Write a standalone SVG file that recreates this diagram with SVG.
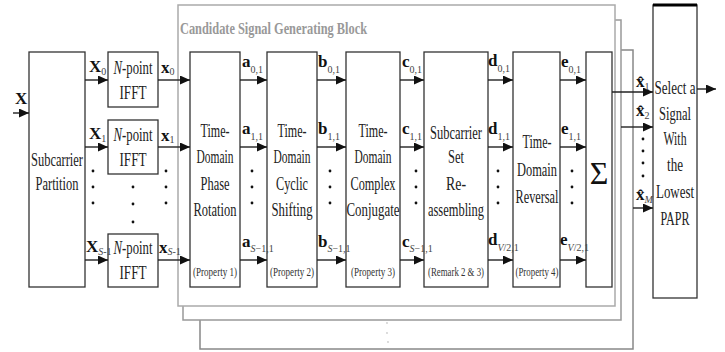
<svg xmlns="http://www.w3.org/2000/svg" width="725" height="352" viewBox="0 0 725 352">
<style>
.bx{fill:#fff;stroke:#333;stroke-width:1.3}
.fr{fill:#fff;stroke-width:1.5}
.ln{stroke:#222;stroke-width:1.4;fill:none}
.t{font-family:"Liberation Serif",serif;font-size:18px;fill:#222;text-anchor:middle}
.p{font-family:"Liberation Serif",serif;font-size:13px;fill:#333;text-anchor:middle}
.lb{font-family:"Liberation Serif",serif;font-size:17px;font-weight:bold;fill:#111}
.sb{font-size:10px;font-weight:normal;fill:#444}
.it{font-style:italic}
.dot{fill:#111}
</style>
<defs>
<marker id="ah" markerUnits="userSpaceOnUse" markerWidth="10" markerHeight="9" refX="10" refY="4.5" orient="auto">
<path d="M0,0 L10,4.5 L0,9 Z" fill="#111"/>
</marker>
</defs>

<g id="frames">
<rect class="fr" x="200" y="50" width="433" height="299" stroke="#888"/>
<rect class="fr" x="183" y="20" width="438" height="300" stroke="#999"/>
<rect class="fr" x="178" y="5" width="437" height="301" stroke="#aaa"/>
<text x="180" y="34" font-family="Liberation Serif,serif" font-size="17" font-weight="bold" fill="#999" textLength="187" lengthAdjust="spacingAndGlyphs">Candidate Signal Generating Block</text>
<g fill="#ccc"><circle cx="387" cy="323" r="0.9"/><circle cx="387" cy="333" r="0.9"/><circle cx="388" cy="342" r="0.9"/></g>
</g>

<g id="partition">
<rect class="bx" x="29" y="52" width="56" height="235"/>
<text class="t" x="57" y="166" textLength="52" lengthAdjust="spacingAndGlyphs">Subcarrier</text>
<text class="t" x="57" y="190" textLength="43" lengthAdjust="spacingAndGlyphs">Partition</text>
</g>

<g id="ifft0">
<rect class="bx" x="108" y="52" width="50" height="55"/>
<text class="t" x="133" y="74" textLength="39" lengthAdjust="spacingAndGlyphs"><tspan class="it">N</tspan>-point</text>
<text class="t" x="133" y="99" textLength="27" lengthAdjust="spacingAndGlyphs">IFFT</text>
</g>
<g id="ifft1">
<rect class="bx" x="108" y="120" width="50" height="54"/>
<text class="t" x="133" y="141" textLength="39" lengthAdjust="spacingAndGlyphs"><tspan class="it">N</tspan>-point</text>
<text class="t" x="133" y="166" textLength="27" lengthAdjust="spacingAndGlyphs">IFFT</text>
</g>
<g id="ifftS">
<rect class="bx" x="108" y="234" width="50" height="53"/>
<text class="t" x="133" y="254" textLength="39" lengthAdjust="spacingAndGlyphs"><tspan class="it">N</tspan>-point</text>
<text class="t" x="133" y="279" textLength="27" lengthAdjust="spacingAndGlyphs">IFFT</text>
</g>

<g id="phase">
<rect class="bx" x="190" y="52" width="50" height="235"/>
<text class="t" x="215" y="137" textLength="29" lengthAdjust="spacingAndGlyphs">Time-</text>
<text class="t" x="215" y="163" textLength="37" lengthAdjust="spacingAndGlyphs">Domain</text>
<text class="t" x="215" y="190" textLength="29" lengthAdjust="spacingAndGlyphs">Phase</text>
<text class="t" x="215" y="216" textLength="43" lengthAdjust="spacingAndGlyphs">Rotation</text>
<text class="p" x="215" y="276" textLength="44" lengthAdjust="spacingAndGlyphs">(Property 1)</text>
</g>
<g id="cyclic">
<rect class="bx" x="267" y="52" width="50" height="235"/>
<text class="t" x="292" y="137" textLength="29" lengthAdjust="spacingAndGlyphs">Time-</text>
<text class="t" x="292" y="163" textLength="37" lengthAdjust="spacingAndGlyphs">Domain</text>
<text class="t" x="292" y="190" textLength="32" lengthAdjust="spacingAndGlyphs">Cyclic</text>
<text class="t" x="292" y="216" textLength="41" lengthAdjust="spacingAndGlyphs">Shifting</text>
<text class="p" x="292" y="276" textLength="44" lengthAdjust="spacingAndGlyphs">(Property 2)</text>
</g>
<g id="conjugate">
<rect class="bx" x="346" y="52" width="54" height="235"/>
<text class="t" x="373" y="137" textLength="29" lengthAdjust="spacingAndGlyphs">Time-</text>
<text class="t" x="373" y="163" textLength="37" lengthAdjust="spacingAndGlyphs">Domain</text>
<text class="t" x="373" y="190" textLength="45" lengthAdjust="spacingAndGlyphs">Complex</text>
<text class="t" x="373" y="216" textLength="53" lengthAdjust="spacingAndGlyphs">Conjugate</text>
<text class="p" x="373" y="276" textLength="44" lengthAdjust="spacingAndGlyphs">(Property 3)</text>
</g>
<g id="reassembling">
<rect class="bx" x="424" y="52" width="64" height="235"/>
<text class="t" x="456" y="139" textLength="52" lengthAdjust="spacingAndGlyphs">Subcarrier</text>
<text class="t" x="456" y="163" textLength="16" lengthAdjust="spacingAndGlyphs">Set</text>
<text class="t" x="456" y="190" textLength="20" lengthAdjust="spacingAndGlyphs">Re-</text>
<text class="t" x="456" y="216" textLength="56" lengthAdjust="spacingAndGlyphs">assembling</text>
<text class="p" x="456" y="276" textLength="56" lengthAdjust="spacingAndGlyphs">(Remark 2 &amp; 3)</text>
</g>
<g id="reversal">
<rect class="bx" x="513" y="52" width="47" height="235"/>
<text class="t" x="537" y="148" textLength="29" lengthAdjust="spacingAndGlyphs">Time-</text>
<text class="t" x="537" y="176" textLength="40" lengthAdjust="spacingAndGlyphs">Domain</text>
<text class="t" x="537" y="203" textLength="43" lengthAdjust="spacingAndGlyphs">Reversal</text>
<text class="p" x="537" y="276" textLength="43" lengthAdjust="spacingAndGlyphs">(Property 4)</text>
</g>
<g id="sum">
<rect class="bx" x="586" y="52" width="26" height="235"/>
<text x="599" y="184" font-family="Liberation Serif,serif" font-size="32" fill="#111" text-anchor="middle">Σ</text>
</g>
<g id="select">
<rect class="bx" x="653" y="5" width="44" height="293"/>
<line x1="653" y1="5" x2="697" y2="5" stroke="#000" stroke-width="3"/>
<text class="t" x="675" y="94" textLength="41" lengthAdjust="spacingAndGlyphs">Select a</text>
<text class="t" x="675" y="120" textLength="32" lengthAdjust="spacingAndGlyphs">Signal</text>
<text class="t" x="675" y="145" textLength="23" lengthAdjust="spacingAndGlyphs">With</text>
<text class="t" x="675" y="171" textLength="16" lengthAdjust="spacingAndGlyphs">the</text>
<text class="t" x="675" y="198" textLength="38" lengthAdjust="spacingAndGlyphs">Lowest</text>
<text class="t" x="675" y="225" textLength="29" lengthAdjust="spacingAndGlyphs">PAPR</text>
</g>

<g id="connectors">
<g class="ln" marker-end="url(#ah)">
<line x1="13" y1="113" x2="29" y2="113"/>
<line x1="85" y1="80" x2="108" y2="80"/>
<line x1="85" y1="147" x2="108" y2="147"/>
<line x1="85" y1="260" x2="108" y2="260"/>
<line x1="158" y1="80" x2="190" y2="80"/>
<line x1="158" y1="147" x2="190" y2="147"/>
<line x1="158" y1="260" x2="190" y2="260"/>
<line x1="240" y1="80" x2="267" y2="80"/>
<line x1="240" y1="147" x2="267" y2="147"/>
<line x1="240" y1="260" x2="267" y2="260"/>
<line x1="317" y1="80" x2="346" y2="80"/>
<line x1="317" y1="147" x2="346" y2="147"/>
<line x1="317" y1="260" x2="346" y2="260"/>
<line x1="400" y1="80" x2="424" y2="80"/>
<line x1="400" y1="147" x2="424" y2="147"/>
<line x1="400" y1="260" x2="424" y2="260"/>
<line x1="488" y1="80" x2="513" y2="80"/>
<line x1="488" y1="147" x2="513" y2="147"/>
<line x1="488" y1="260" x2="513" y2="260"/>
<line x1="560" y1="80" x2="586" y2="80"/>
<line x1="560" y1="147" x2="586" y2="147"/>
<line x1="560" y1="260" x2="586" y2="260"/>
<line x1="612" y1="92" x2="653" y2="92"/>
<line x1="621" y1="127" x2="653" y2="127"/>
<line x1="633" y1="208" x2="653" y2="208"/>
<line x1="697" y1="89" x2="716" y2="89"/>
</g>
<g class="dot">
<circle cx="93" cy="171" r="1.4"/><circle cx="93" cy="187" r="1.4"/><circle cx="93" cy="203" r="1.4"/>
<circle cx="133" cy="187" r="1.4"/><circle cx="133" cy="204" r="1.4"/><circle cx="133" cy="222" r="1.4"/>
<circle cx="166" cy="171" r="1.4"/><circle cx="166" cy="187" r="1.4"/><circle cx="166" cy="203" r="1.4"/>
<circle cx="252" cy="171" r="1.4"/><circle cx="252" cy="187" r="1.4"/><circle cx="252" cy="203" r="1.4"/>
<circle cx="330" cy="171" r="1.4"/><circle cx="330" cy="187" r="1.4"/><circle cx="330" cy="203" r="1.4"/>
<circle cx="416" cy="171" r="1.4"/><circle cx="416" cy="187" r="1.4"/><circle cx="416" cy="203" r="1.4"/>
<circle cx="498" cy="171" r="1.4"/><circle cx="498" cy="187" r="1.4"/><circle cx="498" cy="203" r="1.4"/>
<circle cx="572" cy="171" r="1.4"/><circle cx="572" cy="187" r="1.4"/><circle cx="572" cy="203" r="1.4"/>
<circle cx="643" cy="139" r="1.4"/><circle cx="643" cy="151" r="1.4"/><circle cx="643" cy="163" r="1.4"/><circle cx="643" cy="176" r="1.4"/>
</g>
<text class="lb" x="15" y="104">X</text>
<text class="lb" x="89" y="72">X<tspan class="sb" dy="3">0</tspan></text>
<text class="lb" x="89" y="139">X<tspan class="sb" dy="3">1</tspan></text>
<text class="lb" x="86" y="252">X<tspan class="sb" dy="3"><tspan class="it">S</tspan>-1</tspan></text>
<text class="lb" x="161" y="73">x<tspan class="sb" dy="2">0</tspan></text>
<text class="lb" x="161" y="141">x<tspan class="sb" dy="2">1</tspan></text>
<text class="lb" x="159" y="253">x<tspan class="sb" dy="2"><tspan class="it">S</tspan>-1</tspan></text>
<text class="lb" x="242" y="67">a<tspan class="sb" dy="6">0,1</tspan></text>
<text class="lb" x="242" y="134">a<tspan class="sb" dy="6">1,1</tspan></text>
<text class="lb" x="242" y="247">a<tspan class="sb" dy="5"><tspan class="it">S</tspan>−1,1</tspan></text>
<text class="lb" x="318" y="67">b<tspan class="sb" dy="6">0,1</tspan></text>
<text class="lb" x="318" y="134">b<tspan class="sb" dy="6">1,1</tspan></text>
<text class="lb" x="318" y="247">b<tspan class="sb" dy="5"><tspan class="it">S</tspan>−1,1</tspan></text>
<text class="lb" x="402" y="67">c<tspan class="sb" dy="6">0,1</tspan></text>
<text class="lb" x="402" y="134">c<tspan class="sb" dy="6">1,1</tspan></text>
<text class="lb" x="402" y="247">c<tspan class="sb" dy="5"><tspan class="it">S</tspan>−1,1</tspan></text>
<text class="lb" x="488" y="66">d<tspan class="sb" dy="6">0,1</tspan></text>
<text class="lb" x="488" y="134">d<tspan class="sb" dy="6">1,1</tspan></text>
<text class="lb" x="488" y="245">d<tspan class="sb" dy="6"><tspan class="it">V</tspan>/2,1</tspan></text>
<text class="lb" x="561" y="67">e<tspan class="sb" dy="6">0,1</tspan></text>
<text class="lb" x="561" y="134">e<tspan class="sb" dy="6">1,1</tspan></text>
<text class="lb" x="560" y="245">e<tspan class="sb" dy="6"><tspan class="it">V</tspan>/2,1</tspan></text>
<text class="lb" x="636" y="87">x̂<tspan class="sb" dy="3">1</tspan></text>
<text class="lb" x="636" y="116">x̂<tspan class="sb" dy="3">2</tspan></text>
<text class="lb" x="636" y="200">x̂<tspan class="sb it" dy="3">M</tspan></text>
</g>
</svg>
